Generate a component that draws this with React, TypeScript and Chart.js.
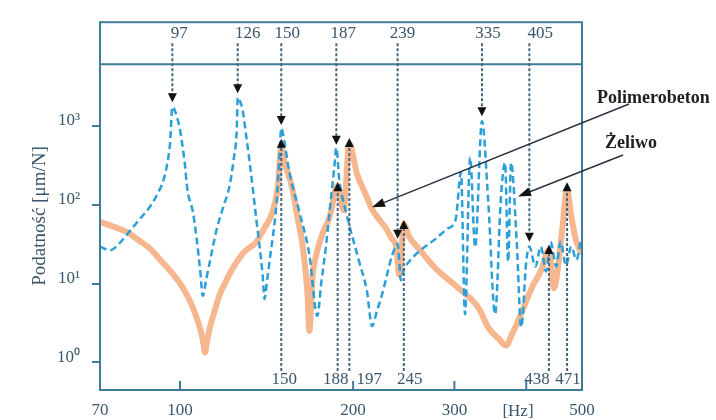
import React, { useEffect, useRef } from "react";
import { Chart, registerables } from "chart.js";

Chart.register(...registerables);

// Żeliwo (cast iron) – blue dashed curve
const zeliwoFreq = [
  72.6, 75.5, 78, 80.9, 84.5, 88.7, 91.5, 93.5, 95, 96.1, 97, 98.2, 100, 101.9, 103, 105.3, 107, 108.3, 109.6, 111,
  112.7, 115.9, 119, 122, 124, 125.5, 126, 127, 128.5, 130.5, 132.2, 135.9, 139.2, 140.3, 141.5, 143.1, 147.2, 149, 150, 151.5,
  155, 161.3, 167.9, 173.3, 176, 179.5, 183, 185.5, 187, 189.2, 194.4, 204.9, 211.4, 215.7, 220, 224.7, 233.9, 239, 240.5, 242,
  245, 250.2, 260.2, 278.2, 292, 301.6, 308, 313, 319.5, 326, 335, 343.6, 353, 361.6, 367.5, 372, 376.4, 385, 392, 400,
  405, 415, 424, 433, 441, 451, 459, 469, 479, 489, 497,
];
const zeliwoValue = [
  29.5, 26.5, 31, 42, 62, 95, 140, 200, 330, 600, 1750, 1500, 890, 343, 157, 81, 35, 16, 7, 11,
  19, 50, 95, 177, 380, 890, 2300, 2100, 1600, 700, 343, 61, 13, 6.4, 10, 19, 108, 450, 944, 700,
  257, 81, 23, 3.9, 10, 31, 120, 300, 530, 210, 81, 19, 8, 2.9, 4.5, 7.4, 23, 32, 20, 11,
  15, 19, 25.5, 37, 50, 66, 257, 4.1, 400, 29, 1150, 108, 4.1, 132, 343, 19, 343, 34, 2.8, 19,
  29.5, 16.5, 29.5, 14.3, 34, 16.5, 34, 17, 29.5, 20, 34,
];

// Polimerobeton (polymer concrete) – thick orange curve
const polimerFreq = [
  72.6, 76.5, 80.9, 85, 88.7, 93, 97.3, 101, 104.1, 106.5, 108.3, 109.6, 110.5, 111.5, 112.7, 115, 117.3, 120, 123.5, 129.5,
  135.9, 140, 144.8, 148, 150, 152, 156.9, 160, 163.3, 166.5, 167.9, 169.9, 173, 176.7, 182, 188, 192.5, 197, 203, 210.7,
  215.7, 222, 228.3, 233, 238, 240.5, 245, 250, 260.2, 278.2, 305.3, 330.6, 343.6, 358, 369, 378, 387.4, 408.6, 425, 438,
  446.6, 461, 471, 478, 486, 494, 500,
];
const polimerValue = [
  61, 53, 45, 35, 27.8, 19, 13.1, 9, 6, 4, 2.76, 1.9, 1.34, 1.9, 2.76, 4.6, 7.36, 10.5, 15.6, 25.5,
  34, 50, 81, 170, 530, 350, 157, 70, 31, 8, 2.5, 11.7, 25, 42, 70, 177, 85, 594, 250, 132,
  88, 65, 50, 38, 27.8, 13, 57, 40, 27.8, 15.6, 8.75, 4.9, 2.76, 2, 1.64, 2.3, 3.38, 8.75, 15, 27,
  8.75, 42, 157, 80, 40, 28, 25,
];

// resonance markers
const topPeakFreq = [97, 126, 150, 187, 239, 335, 405];
const topPeakTip = [2000, 2600, 1030, 578, 37, 1335, 34];
const bottomPeakFreq = [150, 188, 197, 245, 438, 471];
const bottomPeakTip = [687, 193, 707, 64, 31, 193];

const yTickValues = [1, 10, 100, 1000];
const yTickLabels = ["10⁰", "10¹", "10²", "10³"];
const xTickValues = [72.6, 100, 200, 300, 400, 500];
const xTickLabels = ["70", "100", "200", "300", "", "500"];
const xInnerMarks = [100, 200, 300, 400];

const polimerTarget = { f: 215.7, v: 93 };
const zeliwoTarget = { f: 387, v: 128 };

const FONT = "'Liberation Serif', 'Times New Roman', serif";
const FRAME = "#3f7c9a";
const TEXT = "#3a566c";
const DOT = "#46677e";

// label offsets (style only)
const topLabelDx = [7, 10, 6, 7, 5, 6, 11];
const bottomLabelDx = [3, -2, 20, 6, -12, 1];

function tri(ctx: CanvasRenderingContext2D, tx: number, ty: number, dx: number, dy: number, len: number, half: number) {
  const bx = tx - dx * len;
  const by = ty - dy * len;
  ctx.beginPath();
  ctx.moveTo(tx, ty);
  ctx.lineTo(bx - dy * half, by + dx * half);
  ctx.lineTo(bx + dy * half, by - dx * half);
  ctx.closePath();
  ctx.fill();
}

export default function App() {
  const ref = useRef<HTMLCanvasElement>(null);
  useEffect(() => {
    document.body.style.margin = "0";
    const canvas = ref.current!;
    const overlay = {
      id: "overlay",
      afterDatasetsDraw(chart: any) {
        const { ctx, chartArea: a, scales } = chart;
        const x = scales.x;
        const y = scales.y;
        ctx.save();
        // frame
        ctx.strokeStyle = FRAME;
        ctx.lineWidth = 2;
        ctx.setLineDash([]);
        ctx.strokeRect(a.left, a.top, a.right - a.left, a.bottom - a.top);
        const bandY = a.top + 42;
        ctx.beginPath();
        ctx.moveTo(a.left, bandY);
        ctx.lineTo(a.right, bandY);
        ctx.stroke();
        // inner x tick marks
        xInnerMarks.forEach((v) => {
          const px = x.getPixelForValue(v);
          ctx.beginPath();
          ctx.moveTo(px, a.bottom);
          ctx.lineTo(px, a.bottom - 9);
          ctx.stroke();
        });
        // top markers
        ctx.font = `17px ${FONT}`;
        ctx.textAlign = "center";
        ctx.textBaseline = "middle";
        topPeakFreq.forEach((f, i) => {
          const px = x.getPixelForValue(f);
          const tip = y.getPixelForValue(topPeakTip[i]);
          ctx.fillStyle = TEXT;
          ctx.fillText(String(f), px + topLabelDx[i], a.top + 11);
          ctx.strokeStyle = DOT;
          ctx.lineWidth = 2;
          ctx.setLineDash([3, 2]);
          ctx.beginPath();
          ctx.moveTo(px, a.top + 21);
          ctx.lineTo(px, tip - 8);
          ctx.stroke();
          ctx.setLineDash([]);
          ctx.fillStyle = "#111";
          tri(ctx, px, tip, 0, 1, 9, 4.5);
        });
        // bottom markers
        bottomPeakFreq.forEach((f, i) => {
          const px = x.getPixelForValue(f);
          const tip = y.getPixelForValue(bottomPeakTip[i]);
          ctx.fillStyle = TEXT;
          ctx.fillText(String(f), px + bottomLabelDx[i], a.bottom - 10);
          ctx.strokeStyle = DOT;
          ctx.lineWidth = 2;
          ctx.setLineDash([3, 2]);
          ctx.beginPath();
          ctx.moveTo(px, a.bottom - 19);
          ctx.lineTo(px, tip + 8);
          ctx.stroke();
          ctx.setLineDash([]);
          ctx.fillStyle = "#111";
          tri(ctx, px, tip, 0, -1, 9, 4.5);
        });
        // axis captions
        ctx.fillStyle = TEXT;
        ctx.font = `17px ${FONT}`;
        ctx.fillText("[Hz]", a.right - 64, a.bottom + 22);
        ctx.save();
        ctx.translate(40, 216);
        ctx.rotate(-Math.PI / 2);
        ctx.font = `19px ${FONT}`;
        ctx.fillText("Podatność [μm/N]", 0, 0);
        ctx.restore();
        // callouts
        ctx.font = `bold 18px ${FONT}`;
        ctx.textAlign = "left";
        ctx.fillStyle = "#1e1e1e";
        ctx.fillText("Polimerobeton", a.right + 15, 98);
        ctx.fillText("Żeliwo", a.right + 23, 143);
        const callout = (sx: number, sy: number, tx: number, ty: number) => {
          const dx = tx - sx;
          const dy = ty - sy;
          const l = Math.hypot(dx, dy);
          const ux = dx / l;
          const uy = dy / l;
          ctx.strokeStyle = "#2a3440";
          ctx.lineWidth = 1.5;
          ctx.beginPath();
          ctx.moveTo(sx, sy);
          ctx.lineTo(tx - ux * 8, ty - uy * 8);
          ctx.stroke();
          ctx.fillStyle = "#111";
          tri(ctx, tx, ty, ux, uy, 13, 4.5);
        };
        callout(a.right + 47, 104, x.getPixelForValue(polimerTarget.f), y.getPixelForValue(polimerTarget.v));
        callout(a.right + 41, 155, x.getPixelForValue(zeliwoTarget.f), y.getPixelForValue(zeliwoTarget.v));
        ctx.restore();
      },
    };

    const chart = new Chart(canvas, {
      type: "line",
      data: {
        datasets: [
          {
            label: "Żeliwo",
            data: zeliwoFreq.map((f, i) => ({ x: f, y: zeliwoValue[i] })),
            borderColor: "#2a9fd8",
            borderWidth: 2.5,
            borderDash: [7, 4],
            pointRadius: 0,
            cubicInterpolationMode: "monotone",
          },
          {
            label: "Polimerobeton",
            data: polimerFreq.map((f, i) => ({ x: f, y: polimerValue[i] })),
            borderColor: "rgba(245,170,122,0.85)",
            borderWidth: 6,
            borderJoinStyle: "round",
            borderCapStyle: "round",
            pointRadius: 0,
            cubicInterpolationMode: "monotone",
          },
        ],
      },
      options: {
        animation: false,
        responsive: false,
        devicePixelRatio: 1,
        layout: { padding: { top: 18, right: 134, left: 0, bottom: 0 } },
        plugins: { legend: { display: false }, tooltip: { enabled: false } },
        scales: {
          x: {
            type: "logarithmic",
            min: 72.6,
            max: 500,
            afterBuildTicks: (s: any) => {
              s.ticks = xTickValues.map((v) => ({ value: v }));
            },
            afterFit: (s: any) => {
              s.height = 30;
            },
            grid: { display: false, drawTicks: false },
            border: { display: false },
            ticks: {
              autoSkip: false,
              maxRotation: 0,
              padding: 10,
              color: TEXT,
              font: { family: FONT, size: 17 },
              callback: (_v: any, i: number) => xTickLabels[i],
            },
          },
          y: {
            type: "logarithmic",
            min: 0.447,
            max: 20770,
            afterBuildTicks: (s: any) => {
              s.ticks = yTickValues.map((v) => ({ value: v }));
            },
            afterFit: (s: any) => {
              s.width = 100;
            },
            grid: { display: true, drawOnChartArea: false, drawTicks: true, tickLength: 8, color: FRAME, lineWidth: 2 },
            border: { display: false },
            ticks: {
              autoSkip: false,
              padding: 12,
              labelOffset: -5,
              color: TEXT,
              font: { family: FONT, size: 17 },
              callback: (_v: any, i: number) => yTickLabels[i],
            },
          },
        },
      },
      plugins: [overlay],
    } as any);
    return () => chart.destroy();
  }, []);
  return <canvas ref={ref} width={716} height={420} style={{ display: "block" }} />;
}
